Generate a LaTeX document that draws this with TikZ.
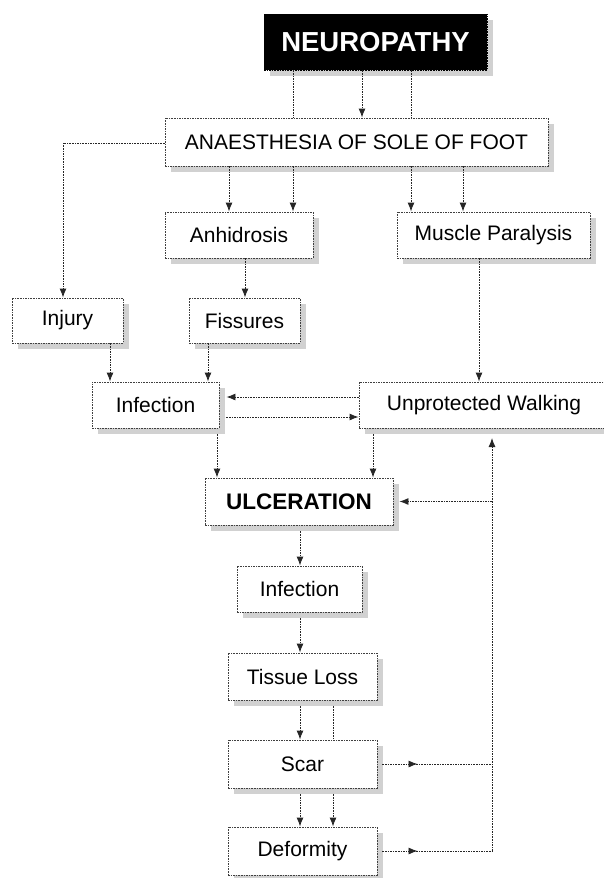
\documentclass[tikz,border=0pt]{standalone}
\usepackage{fontspec}
\setmainfont{Liberation Sans}
\usetikzlibrary{arrows.meta,shadows,decorations.markings}

\begin{document}
\begin{tikzpicture}[x=1pt,y=-1pt,>={Latex[length=9pt,width=7pt]},
    box/.style={rectangle,draw=black!75,dash pattern=on 1.6pt off 1pt,line width=0.9pt,fill=white,inner sep=0pt,minimum height=46pt,font=\fontsize{21}{25}\selectfont,drop shadow={fill=black!18,opacity=1,shadow xshift=6pt,shadow yshift=-6pt}},
    link/.style={draw=black!85,dash pattern=on 1.6pt off 1pt,line width=0.9pt},
    midarrow/.style={postaction={decorate,decoration={markings,mark=at position #1 with {\arrow{Latex[length=9pt,width=7pt]}}}}}]

\useasboundingbox (0,0) rectangle (604,878);

\node[box,draw=black,fill=black,text=white,font=\bfseries\fontsize{27.5}{30}\selectfont,minimum width=223pt,minimum height=56pt] (neuro) at (375.5,42) {NEUROPATHY};
\node[box,minimum width=383pt,minimum height=48pt] (anaes) at (356.5,142) {ANAESTHESIA OF SOLE OF FOOT};
\node[box,minimum width=148pt] (anhid) at (239,235) {Anhidrosis};
\node[box,minimum width=193pt] (muscle) at (493.5,235) {Muscle Paralysis};
\node[box,minimum width=111pt,minimum height=45pt] (injury) at (67.5,320.5) {Injury};
\node[box,minimum width=111pt,minimum height=45pt] (fiss) at (244.5,320.5) {Fissures};
\node[box,minimum width=127pt] (infect) at (155.5,405) {Infection};
\node[box,minimum width=250pt] (walk) at (484,405) {Unprotected Walking};
\node[box,minimum width=188pt,minimum height=47pt,font=\bfseries\fontsize{22.5}{26}\selectfont] (ulcer) at (299,501.5) {ULCERATION};
\node[box,minimum width=125pt] (infectb) at (299.5,589) {Infection};
\node[box,minimum width=149pt,minimum height=47pt] (tissue) at (302.5,676.5) {Tissue Loss};
\node[box,minimum width=149pt,minimum height=48pt] (scar) at (302.5,764) {Scar};
\node[box,minimum width=149pt,minimum height=48pt] (deform) at (302.5,851) {Deformity};

\draw[link] (neuro.south -| 293,0) -- (anaes.north -| 293,0);
\draw[link,->] (neuro.south -| 362,0) -- (anaes.north -| 362,0);
\draw[link] (neuro.south -| 411,0) -- (anaes.north -| 411,0);

\draw[link,->] (anaes.west |- 0,143) -| (injury.north -| 63,0);
\foreach \x in {229,293} \draw[link,->] (anaes.south -| \x,0) -- (anhid.north -| \x,0);
\foreach \x in {411,463} \draw[link,->] (anaes.south -| \x,0) -- (muscle.north -| \x,0);

\draw[link,->] (anhid.south -| 245,0) -- (fiss.north -| 245,0);
\draw[link,->] (injury.south -| 110,0) -- (infect.north -| 110,0);
\draw[link,->] (fiss.south -| 208,0) -- (infect.north -| 208,0);
\draw[link,->] (muscle.south -| 479,0) -- (walk.north -| 479,0);
\draw[link,->,shorten >=7pt] (walk.west |- 0,397) -- (infect.east |- 0,397);
\draw[link,->,shorten <=7pt] (infect.east |- 0,417) -- (walk.west |- 0,417);
\draw[link,->,shorten <=6pt] (infect.south -| 217,0) -- (ulcer.north -| 217,0);
\draw[link,->,shorten <=6pt] (walk.south -| 373,0) -- (ulcer.north -| 373,0);

\draw[link,->,shorten <=6pt] (ulcer.south -| 300,0) -- (infectb.north -| 300,0);
\draw[link,->,shorten <=6pt] (infectb.south -| 300,0) -- (tissue.north -| 300,0);
\draw[link,->,shorten <=6pt] (tissue.south -| 300,0) -- (scar.north -| 300,0);
\draw[link,shorten <=6pt] (tissue.south -| 333,0) -- (scar.north -| 333,0);
\foreach \x in {300,333} \draw[link,->,shorten <=6pt] (scar.south -| \x,0) -- (deform.north -| \x,0);

\coordinate (back) at (492,438);
\draw[link,midarrow=0.35,shorten <=5pt] (scar.east) -- (scar.east -| back);
\draw[link,midarrow=0.35,shorten <=5pt] (deform.east) -- (deform.east -| back);
\draw[link,->] (deform.east -| back) -- (back);
\draw[link,->,shorten >=6pt] (ulcer.east -| back) -- (ulcer.east);

\end{tikzpicture}
\end{document}
